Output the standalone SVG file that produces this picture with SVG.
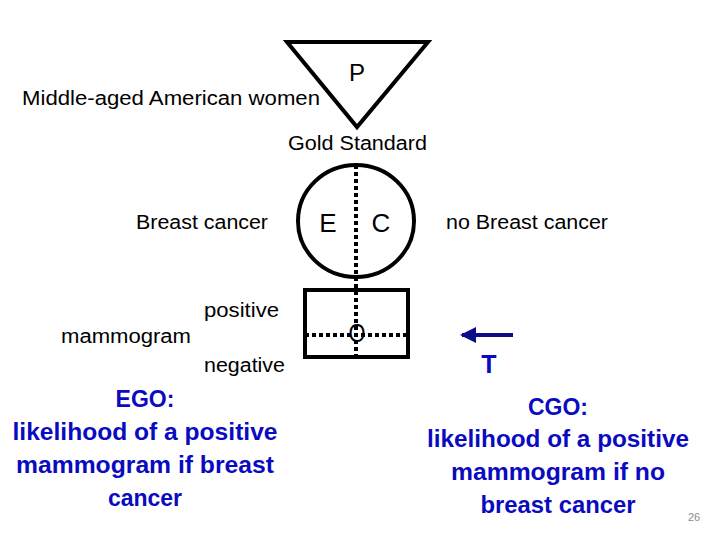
<svg xmlns="http://www.w3.org/2000/svg" width="720" height="540" viewBox="0 0 720 540">
<style>
.t{font-family:"Liberation Sans",Arial,sans-serif;font-size:20px;fill:#000}
.big{font-size:26px}
.b{font-family:"Liberation Sans",Arial,sans-serif;font-size:23px;font-weight:bold;fill:#0a0ac0;text-anchor:middle}
.sh{fill:none;stroke:#000;stroke-width:4}
.dot{stroke:#000;stroke-width:4;stroke-dasharray:4 3;fill:none}
</style>
<defs>
<marker id="ah" markerWidth="4" markerHeight="4" refX="3.5" refY="2" orient="auto" markerUnits="strokeWidth"><path d="M0,0 L4,2 L0,4 Z" fill="#0d0d8a"/></marker>
</defs>
<rect width="720" height="540" fill="#fff"/>
<g id="population">
<polygon class="sh" points="287,42 428,42 357,127"/>
<text class="t" x="357" y="81" text-anchor="middle" style="font-size:24px">P</text>
<text class="t" x="22" y="105" textLength="298" lengthAdjust="spacingAndGlyphs">Middle-aged American women</text>
</g>
<g id="gold-standard">
<ellipse class="sh" cx="356" cy="221" rx="58" ry="56" stroke-width="3.5"/>
<text class="t" x="288" y="150" textLength="139" lengthAdjust="spacingAndGlyphs">Gold Standard</text>
<text class="t big" x="328" y="232" text-anchor="middle">E</text>
<text class="t big" x="381" y="232" text-anchor="middle">C</text>
<text class="t" x="136" y="229" textLength="132" lengthAdjust="spacingAndGlyphs">Breast cancer</text>
<text class="t" x="446" y="229" textLength="162" lengthAdjust="spacingAndGlyphs">no Breast cancer</text>
</g>
<g id="test">
<rect class="sh" x="305" y="290" width="103" height="67" stroke-width="3.5"/>
<text class="t" x="357" y="342" text-anchor="middle" style="font-size:25px" textLength="17" lengthAdjust="spacingAndGlyphs">O</text>
<text class="t" x="204" y="317" textLength="75" lengthAdjust="spacingAndGlyphs">positive</text>
<text class="t" x="61" y="343" textLength="130" lengthAdjust="spacingAndGlyphs">mammogram</text>
<text class="t" x="204" y="372" textLength="81" lengthAdjust="spacingAndGlyphs">negative</text>
</g>
<g id="connectors">
<line class="dot" x1="356" y1="165" x2="356" y2="357"/>
<line class="dot" x1="305" y1="335" x2="408" y2="335"/>
<line x1="513" y1="335" x2="462" y2="335" stroke="#0d0d8a" stroke-width="4" marker-end="url(#ah)"/>
</g>
<g id="t-label">
<text x="489" y="373" font-family="Liberation Sans,Arial,sans-serif" font-size="25" font-weight="bold" fill="#0a0ac0" text-anchor="middle">T</text>
</g>
<g id="ego">
<text class="b" x="145" y="407">EGO:</text>
<text class="b" x="145" y="440" textLength="265" lengthAdjust="spacingAndGlyphs">likelihood of a positive</text>
<text class="b" x="145" y="473" textLength="258" lengthAdjust="spacingAndGlyphs">mammogram if breast</text>
<text class="b" x="145" y="506">cancer</text>
</g>
<g id="cgo">
<text class="b" x="558" y="415">CGO:</text>
<text class="b" x="558" y="447" textLength="262" lengthAdjust="spacingAndGlyphs">likelihood of a positive</text>
<text class="b" x="558" y="480" textLength="214" lengthAdjust="spacingAndGlyphs">mammogram if no</text>
<text class="b" x="558" y="513" textLength="155" lengthAdjust="spacingAndGlyphs">breast cancer</text>
</g>
<text x="694" y="521" font-family="Liberation Sans,Arial,sans-serif" font-size="11" fill="#8c8c8c" text-anchor="middle">26</text>
</svg>
